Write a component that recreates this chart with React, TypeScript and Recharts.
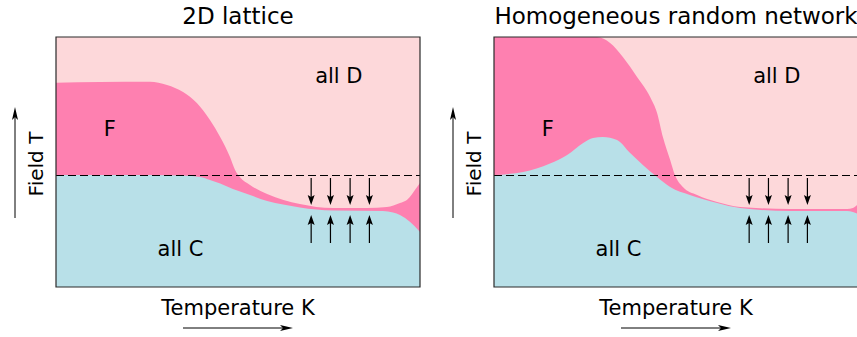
import React from "react";
import {
  Area,
  CartesianGrid,
  ComposedChart,
  ReferenceArea,
  ReferenceDot,
  ReferenceLine,
  XAxis,
  YAxis,
} from "recharts";

// Phase diagrams: temperature K on x, field T on y, both on an arbitrary 0..100 scale.

const FONT = '"DejaVu Sans", Verdana, sans-serif';

const COLORS = {
  allD: "#fdd8da",
  f: "#fe80b0",
  allC: "#b8e0e8",
  ink: "#000",
  frame: "#2a2a2a",
};

// 2D lattice: upper edge of the F region (below it F, above it all D)
const latticeFTopK = [0, 12.1, 25.8, 30.5, 34.9, 38.7, 42.3, 45.1, 47.8, 49.2, 50.5, 53.3, 58, 67, 76.1, 85.4, 90.9, 94.5, 96.4, 99.2, 100];
const latticeFTopT = [81.7, 82, 82.1, 80.8, 78, 73.6, 66.8, 60, 52, 46.8, 44, 40.8, 37.2, 33.2, 31.6, 31.6, 32, 33.6, 34.8, 40, 41.6];
// 2D lattice: upper edge of the all C region
const latticeCTopK = [0, 17.6, 34.9, 39.6, 42.3, 45.1, 48.6, 53.3, 58, 62.4, 67, 76.1, 89.8, 92.6, 94.5, 97.3, 99.5, 100];
const latticeCTopT = [44.8, 44.8, 44.6, 44, 42.8, 41.4, 39.2, 36.8, 34.4, 33, 31.8, 30.6, 30.4, 29.8, 28.8, 26, 22.8, 22];

// Homogeneous random network
const networkFTopK = [0, 18.1, 28.3, 31.9, 35.4, 39.3, 42.9, 44.8, 46.4, 48.4, 49.7, 51.9, 55.8, 61.3, 67.6, 81.3, 97, 98.6, 100];
const networkFTopT = [100, 100, 100, 97.6, 92, 84, 76, 69.6, 60, 50.8, 44.8, 40, 36.8, 34, 32, 31.2, 31.2, 31.6, 33.2];
const networkCTopK = [0, 8, 15.4, 20.1, 24.5, 27.2, 29.9, 33.8, 37.4, 40.9, 44.8, 48.4, 53.8, 61.3, 67.6, 81.3, 97, 98.6, 100];
const networkCTopT = [44.8, 46, 49.4, 52.8, 57.6, 59.6, 60, 58.8, 53.6, 48.8, 44, 40, 36.8, 33.6, 31.6, 30.4, 30.4, 30, 29.2];

// dashed reference field and the squeeze arrows
const fieldThreshold = 44.6;
const arrowK = [70.1, 75.4, 80.8, 86.1];
const arrowDownT = [43.6, 32.8];
const arrowUpT = [17.6, 28.8];

const regionLabels = [
  { text: "all D", k: 77.7, t: 81.5 },
  { text: "F", k: 14.8, t: 60.3 },
  { text: "all C", k: 34.2, t: 12.4 },
];

const zip = (ks: number[], ts: number[]) => ks.map((k, i) => ({ k, t: ts[i] }));

const panels = [
  { title: "2D lattice", left: 0, fTop: zip(latticeFTopK, latticeFTopT), cTop: zip(latticeCTopK, latticeCTopT) },
  { title: "Homogeneous random network", left: 438, fTop: zip(networkFTopK, networkFTopT), cTop: zip(networkCTopK, networkCTopT) },
];

const CHART_W = 430;
const CHART_H = 337;
const PLOT_LEFT = 56;
const PLOT_W = 364;

function Arrow({ x1, y1, x2, y2, len = 10, half = 3.5, notch = 2, width = 1.2 }: any) {
  const dx = x2 - x1;
  const dy = y2 - y1;
  const d = Math.hypot(dx, dy) || 1;
  const ux = dx / d;
  const uy = dy / d;
  const bx = x2 - ux * len;
  const by = y2 - uy * len;
  const nx = x2 - ux * (len - notch);
  const ny = y2 - uy * (len - notch);
  const px = -uy * half;
  const py = ux * half;
  return (
    <g>
      <line x1={x1} y1={y1} x2={nx} y2={ny} stroke={COLORS.ink} strokeWidth={width} />
      <polygon
        points={`${x2},${y2} ${bx + px},${by + py} ${nx},${ny} ${bx - px},${by - py}`}
        fill={COLORS.ink}
      />
    </g>
  );
}

const TempLabel = ({ viewBox }: any) => {
  const { x, y, width } = viewBox;
  const cx = x + width / 2;
  return (
    <g>
      <text x={cx} y={y + 28} textAnchor="middle" fontFamily={FONT} fontSize={21} fill={COLORS.ink}>
        Temperature K
      </text>
      <Arrow x1={cx - 55} y1={y + 41} x2={cx + 55} y2={y + 41} len={13} half={3} notch={3} width={1} />
    </g>
  );
};

const FieldLabel = ({ viewBox }: any) => {
  const { x, y, width, height } = viewBox;
  const rx = x + width;
  const cy = y + height / 2;
  return (
    <g>
      <text
        x={rx - 13}
        y={cy + 2}
        transform={`rotate(-90, ${rx - 13}, ${cy + 2})`}
        textAnchor="middle"
        fontFamily={FONT}
        fontSize={20}
        fill={COLORS.ink}
      >
        Field T
      </text>
      <Arrow x1={rx - 41} y1={cy + 56} x2={rx - 41} y2={cy - 55} len={13} half={3} notch={3} width={1} />
    </g>
  );
};

function Panel({ title, left, fTop, cTop }: any) {
  return (
    <div style={{ position: "absolute", left, top: 0, width: CHART_W, height: CHART_H }}>
      <div
        style={{
          position: "absolute",
          left: PLOT_LEFT,
          top: 4.6,
          width: PLOT_W,
          textAlign: "center",
          fontFamily: FONT,
          fontSize: 23,
          lineHeight: "23px",
          whiteSpace: "nowrap",
          color: COLORS.ink,
        }}
      >
        {title}
      </div>
      <ComposedChart width={CHART_W} height={CHART_H} margin={{ top: 37, right: 10, bottom: 0, left: 0 }}>
        <CartesianGrid horizontal={false} vertical={false} fill={COLORS.allD} stroke="none" />
        <XAxis
          type="number"
          dataKey="k"
          domain={[0, 100]}
          allowDataOverflow
          tick={false}
          tickLine={false}
          axisLine={false}
          height={50}
          label={{ content: TempLabel }}
        />
        <YAxis
          type="number"
          domain={[0, 100]}
          allowDataOverflow
          tick={false}
          tickLine={false}
          axisLine={false}
          width={56}
          label={{ content: FieldLabel }}
        />
        <Area
          data={fTop}
          dataKey="t"
          type="monotone"
          baseValue={0}
          fill={COLORS.f}
          fillOpacity={1}
          stroke="none"
          isAnimationActive={false}
        />
        <Area
          data={cTop}
          dataKey="t"
          type="monotone"
          baseValue={0}
          fill={COLORS.allC}
          fillOpacity={1}
          stroke="none"
          isAnimationActive={false}
        />
        <ReferenceLine
          y={fieldThreshold}
          stroke={COLORS.ink}
          strokeWidth={1}
          strokeDasharray="8 4"
          zIndex={700}
        />
        {arrowK.map((k) => (
          <ReferenceLine
            key={`d${k}`}
            segment={[{ x: k, y: arrowDownT[0] }, { x: k, y: arrowDownT[1] }]}
            zIndex={700}
            shape={(p: any) => <Arrow x1={p.x1} y1={p.y1} x2={p.x2} y2={p.y2} />}
          />
        ))}
        {arrowK.map((k) => (
          <ReferenceLine
            key={`u${k}`}
            segment={[{ x: k, y: arrowUpT[0] }, { x: k, y: arrowUpT[1] }]}
            zIndex={700}
            shape={(p: any) => <Arrow x1={p.x1} y1={p.y1} x2={p.x2} y2={p.y2} />}
          />
        ))}
        {regionLabels.map((l) => (
          <ReferenceDot
            key={l.text}
            x={l.k}
            y={l.t}
            r={1}
            fill="none"
            stroke="none"
            zIndex={700}
            label={{
              content: ({ viewBox }: any) => (
                <text
                  x={viewBox.x + viewBox.width / 2}
                  y={viewBox.y + viewBox.height / 2}
                  textAnchor="middle"
                  fontFamily={FONT}
                  fontSize={21}
                  fill={COLORS.ink}
                >
                  {l.text}
                </text>
              ),
            }}
          />
        ))}
        <ReferenceArea
          x1={0}
          x2={100}
          y1={0}
          y2={100}
          fill="none"
          fillOpacity={0}
          stroke={COLORS.frame}
          strokeWidth={1.2}
          zIndex={800}
        />
      </ComposedChart>
    </div>
  );
}

export default function App() {
  return (
    <div
      style={{
        position: "absolute",
        left: 0,
        top: 0,
        width: 857,
        height: 337,
        overflow: "hidden",
        background: "#fff",
      }}
    >
      {panels.map((p) => (
        <Panel key={p.title} {...p} />
      ))}
    </div>
  );
}
